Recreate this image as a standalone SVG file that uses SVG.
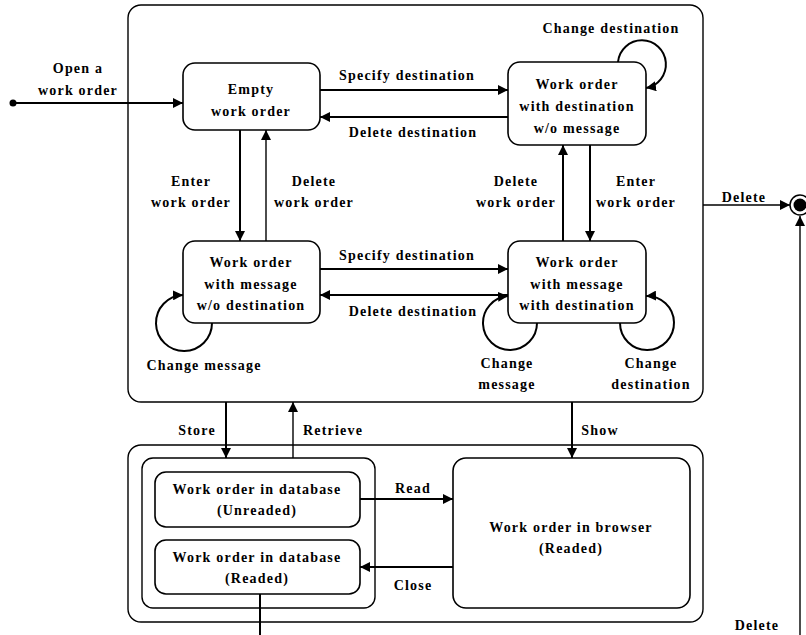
<svg xmlns="http://www.w3.org/2000/svg" width="806" height="635" viewBox="0 0 806 635">
<defs>
<marker id="ah" viewBox="0 0 10 10" refX="10" refY="5" markerWidth="10" markerHeight="10" markerUnits="userSpaceOnUse" orient="auto">
<path d="M0,0 L10,5 L0,10 Z" fill="#000"/>
</marker>
</defs>
<style>
text{font-family:"Liberation Serif","Times New Roman",serif;font-size:14px;font-weight:bold;fill:#000;text-anchor:middle;letter-spacing:1.2px}
.box{fill:#fff;stroke:#000;stroke-width:1.6}
.frame{fill:none;stroke:#000;stroke-width:1.4}
.edge{fill:none;stroke:#000;stroke-width:2}
.thin{fill:none;stroke:#000;stroke-width:1.4}
</style>
<rect width="806" height="635" fill="#fff"/>

<!-- composite frames -->
<g id="editing">
<rect class="frame" x="128" y="5" width="575" height="397" rx="13"/>
</g>
<g id="stored">
<rect class="frame" x="128" y="445" width="575" height="177" rx="13"/>
</g>
<g id="database">
<rect class="frame" x="142" y="458" width="233" height="150" rx="11"/>
</g>

<!-- connectors -->
<g id="connectors">
<circle cx="13" cy="103" r="3.5" fill="#000"/>
<line class="edge" x1="13" y1="103" x2="183" y2="103" marker-end="url(#ah)"/>
<line class="edge" x1="320" y1="90" x2="508" y2="90" marker-end="url(#ah)"/>
<line class="edge" x1="508" y1="117" x2="320" y2="117" marker-end="url(#ah)"/>
<line class="edge" x1="240" y1="130" x2="240" y2="241" marker-end="url(#ah)"/>
<line class="thin" x1="266" y1="241" x2="266" y2="130" marker-end="url(#ah)"/>
<line class="edge" x1="563" y1="241" x2="563" y2="145" marker-end="url(#ah)"/>
<line class="edge" x1="590" y1="145" x2="590" y2="241" marker-end="url(#ah)"/>
<line class="edge" x1="320" y1="269" x2="508" y2="269" marker-end="url(#ah)"/>
<line class="edge" x1="508" y1="295" x2="320" y2="295" marker-end="url(#ah)"/>
<!-- self loops -->
<path class="edge" d="M212,323 A28,28 0 1 1 183,295" marker-end="url(#ah)"/>
<path class="edge" d="M618,62 A24,24 0 1 1 646,88" marker-end="url(#ah)"/>
<path class="edge" d="M537,323 A27,27 0 1 1 508,296" marker-end="url(#ah)"/>
<path class="edge" d="M620,323 A27,27 0 1 0 646,296" marker-end="url(#ah)"/>
<!-- delete to final -->
<line class="thin" x1="703" y1="205" x2="790" y2="205" marker-end="url(#ah)"/>
<line class="thin" x1="800" y1="635" x2="800" y2="216" marker-end="url(#ah)"/>
<!-- store / retrieve / show -->
<line class="edge" x1="226" y1="402" x2="226" y2="458" marker-end="url(#ah)"/>
<line class="thin" x1="293" y1="458" x2="293" y2="402" marker-end="url(#ah)"/>
<line class="edge" x1="572" y1="402" x2="572" y2="458" marker-end="url(#ah)"/>
<!-- read / close -->
<line class="edge" x1="360" y1="499" x2="453" y2="499" marker-end="url(#ah)"/>
<line class="edge" x1="453" y1="567" x2="360" y2="567" marker-end="url(#ah)"/>
<line class="edge" x1="260" y1="594" x2="260" y2="635"/>
</g>

<!-- final state -->
<g id="final">
<circle cx="800" cy="205" r="10" fill="#fff" stroke="#000" stroke-width="1.5"/>
<circle cx="800" cy="205" r="6.5" fill="#000"/>
</g>

<!-- states -->
<g id="empty">
<rect class="box" x="183" y="63" width="137" height="67" rx="12"/>
<text x="251" y="94">Empty</text>
<text x="251" y="116">work order</text>
</g>
<g id="dest-nomsg">
<rect class="box" x="508" y="62" width="138" height="83" rx="12"/>
<text x="577" y="89">Work order</text>
<text x="577" y="111">with destination</text>
<text x="577" y="133">w/o message</text>
</g>
<g id="msg-nodest">
<rect class="box" x="183" y="241" width="137" height="82" rx="12"/>
<text x="251" y="267">Work order</text>
<text x="251" y="289">with message</text>
<text x="251" y="310">w/o destination</text>
</g>
<g id="msg-dest">
<rect class="box" x="508" y="241" width="138" height="82" rx="12"/>
<text x="577" y="267">Work order</text>
<text x="577" y="289">with message</text>
<text x="577" y="310">with destination</text>
</g>
<g id="db-unread">
<rect class="box" x="155" y="472" width="205" height="55" rx="11"/>
<text x="257" y="494">Work order in database</text>
<text x="257" y="515">(Unreaded)</text>
</g>
<g id="db-read">
<rect class="box" x="155" y="540" width="205" height="54" rx="11"/>
<text x="257" y="562">Work order in database</text>
<text x="257" y="583">(Readed)</text>
</g>
<g id="browser">
<rect class="box" x="453" y="458" width="237" height="150" rx="13"/>
<text x="571" y="532">Work order in browser</text>
<text x="571" y="553">(Readed)</text>
</g>

<!-- transition labels -->
<g id="labels">
<text x="78" y="73">Open a</text>
<text x="78" y="95">work order</text>
<text x="407" y="80">Specify destination</text>
<text x="413" y="137">Delete destination</text>
<text x="191" y="186">Enter</text>
<text x="191" y="207">work order</text>
<text x="314" y="186">Delete</text>
<text x="314" y="207">work order</text>
<text x="516" y="186">Delete</text>
<text x="516" y="207">work order</text>
<text x="636" y="186">Enter</text>
<text x="636" y="207">work order</text>
<text x="611" y="33">Change destination</text>
<text x="744" y="202">Delete</text>
<text x="407" y="260">Specify destination</text>
<text x="413" y="316">Delete destination</text>
<text x="204" y="370">Change message</text>
<text x="507" y="368">Change</text>
<text x="507" y="389">message</text>
<text x="651" y="368">Change</text>
<text x="651" y="389">destination</text>
<text x="197" y="435">Store</text>
<text x="333" y="435">Retrieve</text>
<text x="600" y="435">Show</text>
<text x="413" y="493">Read</text>
<text x="413" y="590">Close</text>
<text x="757" y="630">Delete</text>
</g>
</svg>
